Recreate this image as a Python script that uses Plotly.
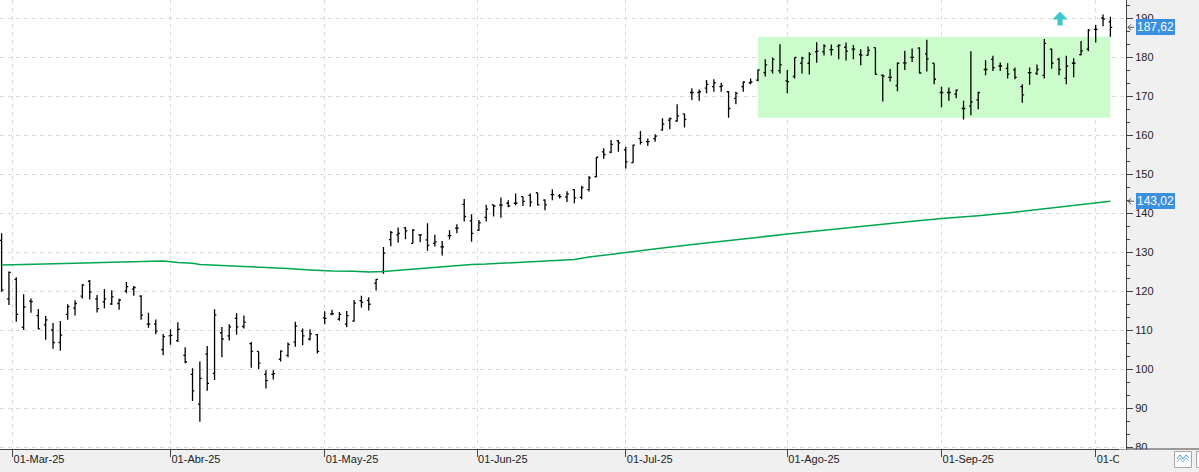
import pandas as pd
import plotly.graph_objects as go

# ---------------- data ----------------
holidays = ["2025-04-18", "2025-05-26", "2025-06-19", "2025-07-04", "2025-09-01"]
trade_days = [d for d in pd.bdate_range("2025-02-27", "2025-10-03")
              if d.strftime("%Y-%m-%d") not in holidays]
dates = [d.strftime("%Y-%m-%d") + " 12:00" for d in trade_days]

opens = [133.0, 118.0, 123.0, 110.7, 117.4, 113.7, 111.3, 110.0, 106.8, 114.0,
         115.6, 118.7, 122.5, 118.0, 117.2, 116.7, 116.8, 120.0, 120.5, 118.7,
         111.5, 111.5, 105.0, 108.5, 107.3, 103.5, 98.6, 91.0, 103.8, 98.9,
         109.3, 108.5, 113.0, 110.9, 106.5, 104.5, 98.6, 98.6, 102.5, 103.5,
         106.9, 109.7, 107.7, 108.8, 113.1, 114.1, 112.8, 111.5, 112.3, 117.5,
         117.6, 122.0, 125.0, 133.2, 134.4, 136.2, 132.2, 134.4, 133.1, 132.2,
         131.3, 134.2, 136.1, 142.2, 138.0, 135.6, 138.9, 142.1, 142.0, 142.5,
         142.5, 144.2, 144.5, 145.2, 143.3, 144.7, 144.4, 144.1, 146.0, 144.0,
         146.0, 149.3, 155.7, 155.6, 158.5, 156.2, 152.9, 159.1, 158.3, 159.1,
         161.3, 163.8, 163.6, 165.4, 170.9, 170.9, 172.0, 172.4, 172.4, 171.1,
         169.4, 172.4, 173.4, 174.1, 176.0, 176.5, 176.5, 173.9, 175.0, 178.4,
         178.4, 181.3, 181.4, 181.9, 182.8, 182.5, 182.0, 180.6, 180.4, 182.4,
         175.3, 174.8, 172.7, 178.5, 179.9, 182.3, 180.8, 178.4, 170.9, 170.9,
         170.5, 166.8, 167.4, 169.0, 176.8, 179.4, 177.7, 177.1, 176.7, 172.4,
         176.0, 175.8, 175.3, 182.0, 179.4, 174.5, 178.4, 180.6, 182.0, 187.1,
         190.0, 189.0]
highs = [134.8, 125.0, 123.5, 119.2, 118.1, 115.4, 113.6, 111.8, 112.3, 116.6,
         117.6, 121.8, 122.8, 119.0, 120.5, 120.2, 118.0, 122.3, 121.3, 118.9,
         114.4, 112.7, 109.0, 110.2, 112.0, 105.6, 100.2, 101.9, 105.9, 115.3,
         110.8, 111.5, 114.3, 113.7, 106.9, 104.5, 99.7, 99.7, 104.8, 106.8,
         112.1, 110.4, 110.2, 109.0, 114.8, 115.2, 114.6, 114.9, 117.7, 118.8,
         118.4, 123.1, 131.3, 135.4, 136.3, 136.4, 135.9, 134.5, 137.4, 134.4,
         132.8, 135.6, 137.1, 143.6, 139.7, 138.2, 142.1, 142.2, 144.0, 143.3,
         145.0, 144.2, 145.0, 145.2, 143.5, 146.1, 144.9, 145.6, 146.1, 147.0,
         149.5, 154.3, 156.6, 158.7, 158.7, 157.0, 157.6, 161.0, 159.1, 160.2,
         164.3, 164.5, 167.9, 165.4, 172.0, 171.7, 174.1, 174.3, 173.4, 171.3,
         171.1, 173.8, 174.5, 176.8, 179.4, 179.9, 183.3, 176.7, 179.9, 180.1,
         181.2, 183.8, 183.3, 183.2, 183.3, 183.7, 183.1, 182.0, 182.7, 182.4,
         175.6, 176.9, 178.6, 181.6, 182.2, 182.5, 184.4, 178.4, 172.4, 172.2,
         171.7, 168.8, 181.5, 171.1, 179.2, 180.3, 178.6, 178.4, 177.3, 173.0,
         177.3, 178.1, 184.6, 182.2, 179.8, 180.3, 179.7, 184.1, 187.2, 188.2,
         190.9, 190.3]
lows = [119.8, 116.4, 112.1, 110.0, 114.4, 110.2, 107.5, 105.2, 104.7, 112.6,
        113.7, 118.1, 117.8, 114.5, 115.6, 116.4, 115.2, 119.4, 118.8, 112.6,
        110.6, 108.9, 103.5, 106.2, 106.9, 101.5, 91.8, 86.5, 94.4, 97.2,
        103.0, 107.3, 108.8, 110.4, 100.3, 100.0, 95.0, 97.3, 101.9, 103.0,
        105.7, 106.1, 107.3, 104.0, 111.5, 113.8, 112.4, 110.7, 112.1, 115.8,
        115.0, 120.1, 124.4, 131.5, 132.4, 133.3, 132.2, 132.5, 130.3, 131.4,
        129.1, 133.2, 134.8, 137.8, 132.6, 135.4, 137.8, 139.1, 138.8, 141.5,
        142.0, 141.8, 141.6, 141.9, 140.7, 143.3, 143.7, 142.8, 142.5, 143.5,
        145.5, 149.2, 153.9, 155.3, 155.7, 151.4, 152.9, 157.6, 157.2, 158.3,
        161.1, 161.5, 163.4, 161.9, 169.0, 168.8, 170.7, 171.1, 171.1, 164.4,
        167.9, 171.1, 173.0, 173.8, 175.0, 175.8, 175.8, 170.7, 174.5, 175.8,
        175.5, 178.5, 180.4, 180.4, 179.4, 179.1, 179.4, 177.9, 180.4, 175.4,
        168.6, 173.7, 171.2, 176.7, 178.7, 175.8, 176.3, 173.0, 167.1, 168.8,
        169.4, 164.0, 165.1, 166.6, 175.3, 176.4, 176.4, 174.5, 174.3, 168.3,
        172.9, 175.4, 174.5, 177.0, 175.3, 173.0, 174.8, 180.4, 181.5, 183.7,
        187.9, 185.2]
closes = [120.3, 124.8, 114.0, 115.9, 117.3, 110.3, 112.6, 106.8, 108.7, 116.0,
          116.8, 121.5, 119.7, 115.5, 118.0, 118.5, 117.7, 121.1, 120.9, 113.8,
          111.5, 109.7, 108.3, 108.6, 110.2, 101.8, 94.4, 97.6, 96.3, 113.9,
          107.7, 110.8, 110.8, 112.0, 104.5, 101.5, 97.0, 98.8, 104.5, 106.3,
          111.0, 108.5, 109.0, 104.5, 113.0, 114.2, 114.0, 113.7, 116.9, 117.1,
          116.6, 123.0, 129.7, 135.0, 134.8, 135.4, 135.6, 134.4, 131.7, 132.6,
          131.3, 134.2, 136.1, 139.1, 134.8, 137.5, 141.0, 141.8, 142.0, 141.8,
          142.5, 143.0, 142.8, 142.1, 142.1, 144.7, 144.2, 144.9, 143.9, 146.5,
          149.0, 154.3, 155.0, 157.6, 158.0, 153.1, 157.4, 158.1, 158.3, 159.7,
          162.8, 164.2, 164.9, 164.0, 170.9, 171.1, 173.0, 173.4, 172.6, 166.8,
          170.7, 173.6, 173.6, 176.7, 178.0, 179.4, 178.0, 173.7, 179.9, 179.7,
          180.7, 181.5, 182.8, 181.9, 183.0, 181.5, 182.0, 180.5, 181.7, 175.6,
          175.1, 174.8, 178.4, 178.5, 179.9, 175.9, 179.5, 174.3, 170.9, 170.9,
          171.5, 166.8, 168.5, 170.9, 176.8, 177.3, 177.7, 175.6, 174.8, 170.3,
          176.0, 176.8, 183.5, 178.4, 176.8, 177.7, 178.4, 181.6, 186.9, 187.1,
          189.7, 187.62]

ma_dates = ["2025-02-27", "2025-03-06", "2025-03-13", "2025-03-20", "2025-03-27",
            "2025-03-31", "2025-04-02", "2025-04-04", "2025-04-07", "2025-04-10",
            "2025-04-15", "2025-04-21", "2025-04-24", "2025-04-29", "2025-05-02",
            "2025-05-07", "2025-05-09", "2025-05-13", "2025-05-15", "2025-05-19",
            "2025-05-21", "2025-05-23", "2025-05-28", "2025-05-30", "2025-06-03",
            "2025-06-05", "2025-06-09", "2025-06-11", "2025-06-13", "2025-06-17",
            "2025-06-20", "2025-06-24", "2025-07-01", "2025-07-09", "2025-07-16",
            "2025-07-23", "2025-08-01", "2025-08-08", "2025-08-15", "2025-08-22",
            "2025-09-02", "2025-09-09", "2025-09-16", "2025-09-23", "2025-09-30",
            "2025-10-03"]
ma_values = [126.7, 126.85, 127.1, 127.4, 127.7,
             127.7, 127.3, 127.1, 126.8, 126.6,
             126.3, 126.0, 125.8, 125.4, 125.1,
             125.05, 124.9, 125.0, 125.3, 125.7,
             126.0, 126.2, 126.5, 126.8, 126.9,
             127.1, 127.3, 127.5, 127.7, 127.9,
             128.1, 128.7, 129.9, 131.0, 132.1,
             133.2, 134.6, 135.6, 136.6, 137.5,
             138.6, 139.3, 140.2, 141.3, 142.4,
             143.02]
ma_x = [d + " 12:00" for d in ma_dates]

# month ticks (placed where the source chart draws them on the trading-day axis)
month_ticks = ["2025-03-03 00:00", "2025-04-01 12:00", "2025-05-01 12:00",
               "2025-06-02 06:00", "2025-07-01 12:00", "2025-08-01 12:00",
               "2025-09-02 12:00", "2025-10-01 12:00"]
month_labels = ["01-Mar-25", "01-Abr-25", "01-May-25", "01-Jun-25",
                "01-Jul-25", "01-Ago-25", "01-Sep-25", "01-Oct-25"]
y_ticks = [80, 90, 100, 110, 120, 130, 140, 150, 160, 170, 180, 190]

box_start, box_end = "2025-07-28 12:00", "2025-10-03 12:00"
box_low, box_high = 164.4, 185.2
signal_date = "2025-09-24 12:00"
signal_level = 190.0

last_close = closes[-1]
last_ma = ma_values[-1]

# ---------------- figure ----------------
W, H = 1199, 472
PL, PR, PT, PB = 0, 1126, 0, 449   # plot area in pixels


def px(x):
    return (x - PL) / (PR - PL)


def py(y):
    return (PB - y) / (PB - PT)


FONT = "Segoe UI, Liberation Sans, Arial, sans-serif"
GRID = "#dcdcdc"
AXC = "#444444"

fig = go.Figure()
fig.add_trace(go.Scatter(x=ma_x, y=ma_values, mode="lines",
                         line=dict(color="#00a650", width=1.5),
                         hoverinfo="skip", showlegend=False))
fig.add_trace(go.Ohlc(x=dates, open=opens, high=highs, low=lows, close=closes,
                      increasing=dict(line=dict(color="black", width=1.3)),
                      decreasing=dict(line=dict(color="black", width=1.3)),
                      tickwidth=0.25, hoverinfo="skip", showlegend=False))

shapes = []
# highlighted range box (drawn over grid, under bars)
shapes.append(dict(type="rect", xref="x", yref="y", x0=box_start, x1=box_end,
                   y0=box_low, y1=box_high, fillcolor="#ccfccc",
                   line=dict(width=0), layer="between"))
# signal arrow
shapes.append(dict(type="path", xref="x", yref="y", xsizemode="pixel",
                   ysizemode="pixel", xanchor=signal_date, yanchor=signal_level,
                   path="M 1,6.5 L 8.5,-1.5 L 3.5,-1.5 L 3.5,-7.5 L -1.5,-7.5 "
                        "L -1.5,-1.5 L -6.5,-1.5 Z",
                   fillcolor="#3cc9cb", line=dict(width=0), layer="above"))
# little pointer marks at the price tags
for lvl in (last_close, last_ma):
    shapes.append(dict(type="path", xref="paper", yref="y", xsizemode="pixel",
                       ysizemode="pixel", xanchor=1, yanchor=lvl,
                       path="M 2,0 L 8,0 M 5,3 L 2,0 L 5,-3",
                       line=dict(color="#555555", width=1), layer="above"))
# bottom-right panel cover, axis line and small buttons
shapes.append(dict(type="rect", xref="paper", yref="paper",
                   x0=px(1119), x1=px(1200), y0=py(473), y1=py(449.6),
                   fillcolor="#f0f0f0", line=dict(width=0), layer="above"))
shapes.append(dict(type="line", xref="paper", yref="paper",
                   x0=px(1126), x1=px(1200), y0=py(449), y1=py(449),
                   line=dict(color=AXC, width=1), layer="above"))
shapes.append(dict(type="rect", xref="paper", yref="paper",
                   x0=px(1174.5), x1=px(1191.5), y0=py(467.5), y1=py(451.5),
                   fillcolor="#fafafa", line=dict(color="#a8a8a8", width=1),
                   layer="above"))
shapes.append(dict(type="rect", xref="paper", yref="paper",
                   x0=px(1196.5), x1=px(1202), y0=py(467.5), y1=py(451.5),
                   fillcolor="#fafafa", line=dict(color="#a8a8a8", width=1),
                   layer="above"))
for off, col in ((0, "#4a9fe3"), (3, "#7fbdf0")):
    pts = [(1177, 459 + off), (1180, 455 + off), (1183, 459 + off),
           (1186, 455 + off), (1189, 458 + off)]
    path = "M " + " L ".join(f"{px(a):.5f},{py(b):.5f}" for a, b in pts)
    shapes.append(dict(type="path", xref="paper", yref="paper", path=path,
                       line=dict(color=col, width=1), layer="above"))

annotations = []
for lvl in (last_close, last_ma):
    annotations.append(dict(xref="paper", yref="y", x=px(1136), y=lvl,
                            xanchor="left", yanchor="middle",
                            text=f"{lvl:.2f}".replace(".", ","),
                            showarrow=False, bgcolor="#3a8fe0",
                            font=dict(color="white", size=12, family=FONT),
                            borderpad=1, borderwidth=0))

fig.update_layout(
    width=W, height=H,
    margin=dict(l=PL, r=W - PR, t=PT, b=H - PB, autoexpand=False),
    paper_bgcolor="#f0f0f0", plot_bgcolor="white",
    showlegend=False, hovermode=False,
    font=dict(family=FONT, size=11, color="#222222"),
    shapes=shapes, annotations=annotations,
    xaxis=dict(type="date", range=["2025-02-27 06:45", "2025-10-07 15:00"],
               rangebreaks=[dict(bounds=["sat", "mon"]), dict(values=holidays)],
               tickmode="array", tickvals=month_ticks,
               ticktext=month_labels, ticklabelposition="outside right",
               ticks="outside", ticklen=7, tickcolor=AXC, tickwidth=1,
               showgrid=True, gridcolor=GRID, griddash="4px,4px", gridwidth=1,
               showline=True, linecolor=AXC, linewidth=1, zeroline=False,
               rangeslider=dict(visible=False), fixedrange=True,
               tickfont=dict(size=11, color="#222222")),
    yaxis=dict(side="right", range=[79.49, 194.62], tickmode="array",
               tickvals=y_ticks, ticks="outside", ticklen=6, tickcolor=AXC,
               minor=dict(dtick=10 / 3, tick0=80, ticks="outside", ticklen=3,
                          tickcolor=AXC, showgrid=False),
               showgrid=True, gridcolor=GRID, griddash="4px,4px", gridwidth=1,
               showline=True, linecolor=AXC, linewidth=1, zeroline=False,
               fixedrange=True, tickfont=dict(size=11, color="#222222")),
)

fig.write_html("out.html", config=dict(displayModeBar=False, staticPlot=True))
